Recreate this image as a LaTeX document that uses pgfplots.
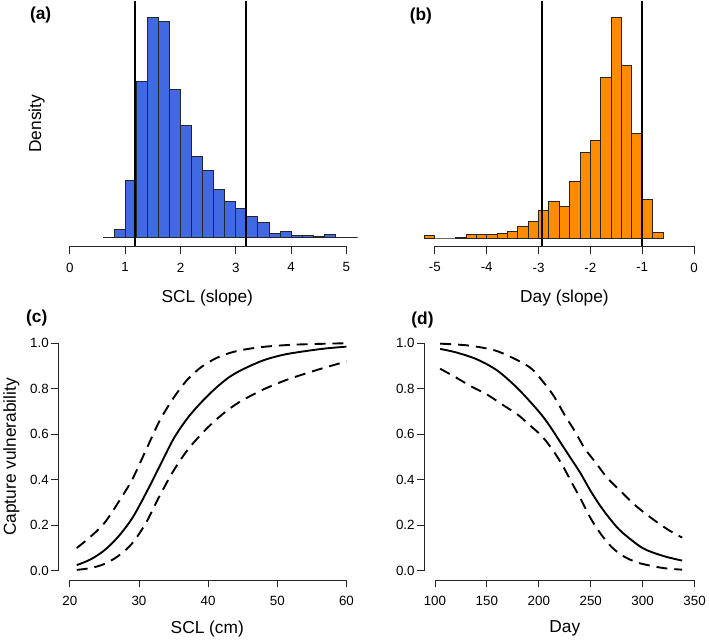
\documentclass[border=0pt]{standalone}
\usepackage{fontspec}
\setmainfont{Liberation Sans}
\usepackage{pgfplots}
\pgfplotsset{compat=1.18}
\definecolor{hblue}{RGB}{65,105,225}
\definecolor{horange}{RGB}{255,140,0}
\pgfplotsset{
  rstyle/.style={
    scale only axis, anchor=south west, enlargelimits=false, clip=false,
    axis x line*=bottom,
    axis line style={draw=none},
    tick align=outside, major tick length=7.5bp,
    tick style={black!85, line width=0.8bp},
    tick label style={font=\fontsize{13.5}{15}\selectfont},
    /pgf/number format/assume math mode=true,
    xticklabel style={yshift=-5.5bp},
  },
  hstyle/.style={rstyle, axis y line=none},
  cstyle/.style={rstyle, axis y line*=left, ymin=-0.04, ymax=1.04,
    ytick={0,0.2,0.4,0.6,0.8,1.0},
    yticklabel style={xshift=1bp, /pgf/number format/.cd, fixed, fixed zerofill, precision=1}},
  dashline/.style={black, line width=1.9bp, dash pattern=on 11bp off 7bp, smooth, tension=0.5},
  solidline/.style={black, line width=1.9bp, smooth, tension=0.5},
}
\newcommand{\labfont}{\fontsize{17.5}{20}\selectfont}
\begin{document}
\begin{tikzpicture}
\path (0,0) rectangle (709bp,642bp);
% (a)
\begin{axis}[hstyle, at={(57.2bp,395.3bp)}, width=300.7bp, height=246.7bp,
  xmin=-0.2, xmax=5.2, ymin=-27, ymax=713, xtick={0,1,2,3,4,5}]
\addplot[ybar interval, fill=hblue, draw=black!85, line width=0.9bp] coordinates {
(0.6,0) (0.8,23) (1.0,173) (1.2,471) (1.4,665) (1.6,653) (1.8,446) (2.0,339)
(2.2,245) (2.4,202) (2.6,144) (2.8,107) (3.0,88) (3.2,63) (3.4,45) (3.6,13)
(3.8,17) (4.0,7) (4.2,7) (4.4,2) (4.6,10) (4.8,0) (5.0,0) (5.2,0)};
\addplot[black, line width=2bp] coordinates {(1.18,-27) (1.18,713)};
\addplot[black, line width=2bp] coordinates {(3.18,-27) (3.18,713)};
\draw[black!85, line width=0.8bp] (axis cs:0,-27) -- (axis cs:5,-27);
\end{axis}
% (b)
\begin{axis}[hstyle, at={(425.3bp,395.3bp)}, width=281.8bp, height=246.7bp,
  xmin=-5.2, xmax=0.2, ymin=-25, ymax=715, xtick={-5,-4,-3,-2,-1,0}]
\addplot[ybar interval, fill=horange, draw=black!85, line width=0.9bp] coordinates {
(-5.2,7) (-5.0,0) (-4.8,0) (-4.6,2) (-4.4,10) (-4.2,10) (-4.0,10) (-3.8,15)
(-3.6,19) (-3.4,36) (-3.2,50) (-3.0,84) (-2.8,111) (-2.6,95) (-2.4,171) (-2.2,259)
(-2.0,295) (-1.8,485) (-1.6,667) (-1.4,522) (-1.2,317) (-1.0,117) (-0.8,17) (-0.6,0)};
\addplot[black, line width=2.4bp] coordinates {(-2.93,-25) (-2.93,715)};
\addplot[black, line width=2.4bp] coordinates {(-1.01,-25) (-1.01,715)};
\draw[black!85, line width=0.8bp] (axis cs:-5,-25) -- (axis cs:0,-25);
\end{axis}
% (c)
\begin{axis}[cstyle, at={(57.2bp,59.5bp)}, width=300.7bp, height=247.4bp,
  xmin=18.4, xmax=61.6, xtick={20,30,40,50,60}]
\addplot[solidline] coordinates {
(21,0.025) (23,0.05) (25,0.09) (27,0.15) (29,0.23) (31,0.34) (33,0.46) (35,0.58)
(37,0.67) (39,0.74) (41,0.80) (43,0.85) (45,0.885) (48,0.925) (51,0.95) (54,0.965)
(57,0.977) (60,0.985)};
\addplot[dashline] coordinates {
(21,0.10) (23,0.15) (25,0.21) (27,0.30) (29,0.40) (31,0.53) (33,0.66) (35,0.76)
(37,0.84) (39,0.895) (41,0.932) (43,0.956) (45,0.971) (48,0.984) (52,0.993) (56,0.997) (60,1.0)};
\addplot[dashline] coordinates {
(21,0.004) (23,0.012) (25,0.03) (27,0.065) (29,0.12) (31,0.21) (33,0.33) (35,0.44)
(37,0.53) (39,0.60) (41,0.66) (43,0.71) (45,0.75) (48,0.797) (51,0.835) (54,0.866)
(57,0.894) (60,0.92)};
\draw[black!85, line width=0.8bp] (axis cs:20,-0.04) -- (axis cs:60,-0.04);
\draw[black!85, line width=0.8bp] (axis cs:18.4,0) -- (axis cs:18.4,1);
\end{axis}
% (d)
\begin{axis}[cstyle, at={(425.4bp,59.5bp)}, width=282.2bp, height=247.4bp,
  xmin=90, xmax=360, xtick={100,150,200,250,300,350}]
\addplot[solidline] coordinates {
(105,0.975) (120,0.96) (140,0.93) (160,0.88) (180,0.80) (200,0.70) (210,0.64)
(220,0.57) (230,0.50) (240,0.43) (250,0.35) (260,0.28) (270,0.22) (280,0.17)
(300,0.10) (320,0.065) (338,0.045)};
\addplot[dashline] coordinates {
(105,0.998) (132,0.99) (158,0.968) (180,0.924) (193,0.888) (203,0.837) (214,0.771)
(225,0.684) (235,0.611) (244,0.539) (254,0.48) (266,0.408) (279,0.349) (292,0.291)
(308,0.233) (324,0.182) (338,0.146)};
\addplot[dashline] coordinates {
(105,0.888) (120,0.85) (135,0.81) (150,0.775) (165,0.73) (180,0.685) (190,0.645)
(200,0.605) (207,0.57) (215,0.52) (222,0.47) (228,0.42) (235,0.36) (241,0.31)
(250,0.23) (260,0.16) (270,0.105) (280,0.068)
(290,0.045) (300,0.03) (320,0.012) (338,0.005)};
\draw[black!85, line width=0.8bp] (axis cs:100,-0.04) -- (axis cs:350,-0.04);
\draw[black!85, line width=0.8bp] (axis cs:90,0) -- (axis cs:90,1);
\end{axis}
% labels
\node[font=\labfont\bfseries] at (39bp,628bp) {(a)};
\node[font=\labfont\bfseries] at (421.7bp,627bp) {(b)};
\node[font=\labfont\bfseries] at (35bp,322.7bp) {(c)};
\node[font=\labfont\bfseries] at (423.3bp,321bp) {(d)};
\node[font=\labfont, rotate=90] at (35bp,518.7bp) {Density};
\node[font=\labfont, rotate=90] at (9.5bp,183.2bp) {Capture vulnerability};
\node[font=\labfont] at (206.7bp,343.7bp) {SCL (slope)};
\node[font=\labfont] at (566.2bp,343.7bp) {Day (slope)};
\node[font=\labfont] at (206.7bp,10.3bp) {SCL (cm)};
\node[font=\labfont] at (566.5bp,10.3bp) {Day};
\end{tikzpicture}
\end{document}
